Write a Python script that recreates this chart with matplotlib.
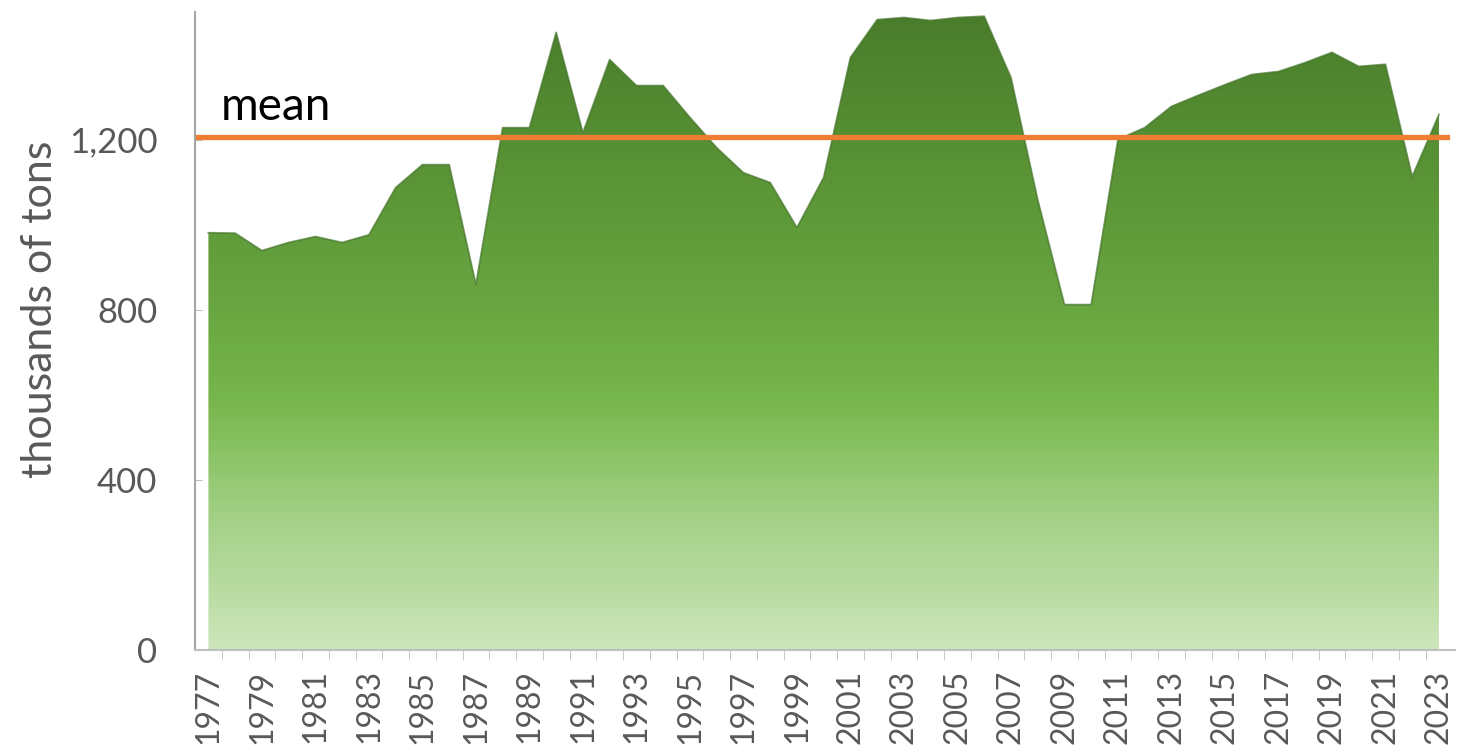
import numpy as np
import matplotlib
matplotlib.use("Agg")
import matplotlib.pyplot as plt
from matplotlib.colors import LinearSegmentedColormap
from matplotlib.patches import PathPatch
from matplotlib.path import Path

years = list(range(1977, 2024))
values = [981, 980, 939, 958, 972, 958, 976, 1087, 1141, 1141,
          859, 1228, 1228, 1452, 1216, 1388, 1327, 1327, 1252, 1181,
          1122, 1099, 993, 1111, 1393, 1482, 1487, 1480, 1487, 1490,
          1346, 1059, 812, 812, 1200, 1228, 1278, 1304, 1329, 1353,
          1360, 1381, 1405, 1372, 1377, 1113, 1259]
mean_value = 1205
y_ticks = [0, 400, 800, 1200]
y_tick_labels = ["0", "400", "800", "1,200"]
label_years = list(range(1977, 2024, 2))
y_label = "thousands of tons"
mean_label = "mean"

plt.rcParams['font.family'] = ['Lato', 'DejaVu Sans']
fig = plt.figure(figsize=(14.73, 7.55), dpi=100)
ax = fig.add_axes([0.1324, 0.1391, 0.9878 - 0.1324, 0.9841 - 0.1391])

x = np.array(years, dtype=float)
y = np.array(values, dtype=float)
ymax = 1500
xlo, xhi = 1976.5, 2023.6

# gradient fill clipped to the area polygon
cmap = LinearSegmentedColormap.from_list("g", [
    (0.0, "#cde6bb"), (0.07, "#bedea8"), (0.2, "#a4d188"), (0.33, "#86c05e"),
    (0.4, "#76b54a"), (0.55, "#68a540"), (0.8, "#568f33"), (1.0, "#4a7c2b")])
grad = np.linspace(0, 1, 256).reshape(-1, 1)
im = ax.imshow(grad, extent=[x[0], x[-1], 0, ymax], origin="lower",
               aspect="auto", cmap=cmap, zorder=1)
verts = [(x[0], 0)] + list(zip(x, y)) + [(x[-1], 0), (x[0], 0)]
codes = [Path.MOVETO] + [Path.LINETO] * (len(verts) - 2) + [Path.CLOSEPOLY]
patch = PathPatch(Path(verts, codes), facecolor="none", edgecolor="none")
ax.add_patch(patch)
im.set_clip_path(patch)
ax.plot(x, y, color="#44752a", lw=1.3, alpha=0.7, zorder=2)

ax.axhline(mean_value, xmin=0.002, xmax=0.994, color="#ED7D31", lw=3.8, zorder=3)
ax.text(1977.45, 1247, mean_label, fontsize=33, color="black", va="baseline", ha="left")

ax.set_xlim(xlo, xhi)
ax.set_ylim(0, ymax)
ax.set_yticks(y_ticks)
ax.set_yticklabels(y_tick_labels)
ax.set_xticks(label_years)
ax.set_xticklabels([str(v) for v in label_years], rotation=90)
ax.set_xticks([v + 0.5 for v in years[:-1]], minor=True)
ax.tick_params(axis="x", which="major", length=0, labelsize=23, colors="#595959", pad=14)
ax.tick_params(axis="x", which="minor", length=7, color="#bfbfbf", direction="out")
ax.tick_params(axis="y", which="major", length=5, color="#bfbfbf", direction="in",
               labelsize=25, labelcolor="#595959", pad=27)
for lbl in ax.get_yticklabels():
    lbl.set_horizontalalignment("right")
ax.set_ylabel(y_label, fontsize=31, color="#595959")
ax.yaxis.set_label_coords(-0.108, 0.534)

for s in ["top", "right"]:
    ax.spines[s].set_visible(False)
ax.spines["left"].set_color("#a6a6a6")
ax.spines["left"].set_linewidth(1.5)
ax.spines["bottom"].set_color("#bfbfbf")
ax.spines["bottom"].set_linewidth(1.5)

fig.savefig("out.png", dpi=100)
